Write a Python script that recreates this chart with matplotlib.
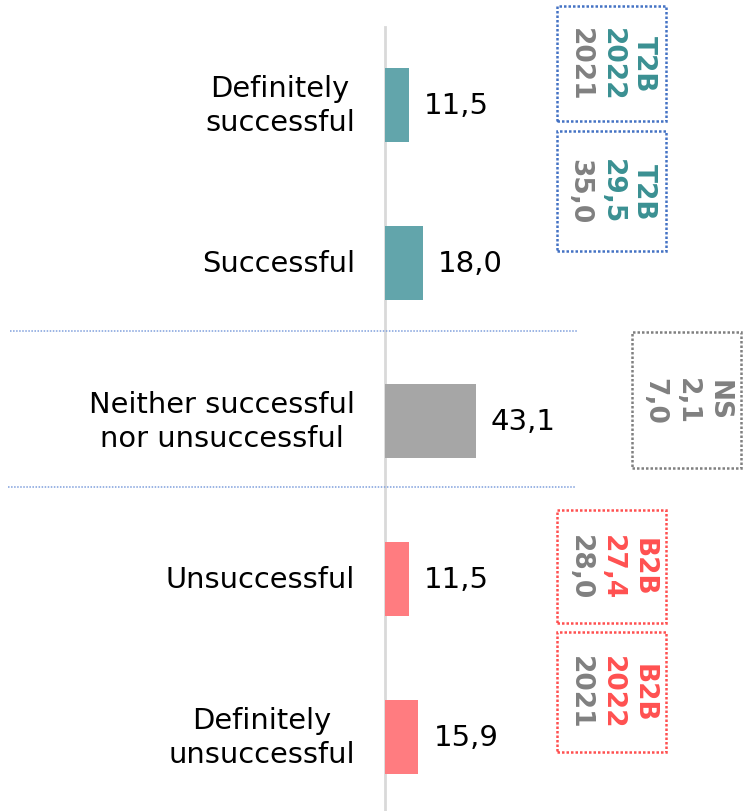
import matplotlib
matplotlib.use("Agg")
import matplotlib.pyplot as plt
from matplotlib.patches import Rectangle

categories = ["Definitely\nsuccessful", "Successful", "Neither successful\nnor unsuccessful",
              "Unsuccessful", "Definitely\nunsuccessful"]
values = [11.5, 18.0, 43.1, 11.5, 15.9]
value_labels = ["11,5", "18,0", "43,1", "11,5", "15,9"]
bar_colors = ["#62a5ab", "#62a5ab", "#a6a6a6", "#ff7c80", "#ff7c80"]

# summary boxes
box_t2b_head = ["T2B", "2022", "2021"]
box_t2b_vals = ["T2B", "29,5", "35,0"]
box_ns_vals = ["NS", "2,1", "7,0"]
box_b2b_vals = ["B2B", "27,4", "28,0"]
box_b2b_head = ["B2B", "2022", "2021"]

TEAL = "#3a9092"
RED = "#ff5050"
GREY = "#808080"

W, H = 743, 812
fig = plt.figure(figsize=(W / 100, H / 100), dpi=100)
ax = fig.add_axes([0, 0, 1, 1])

px_per_unit = 2.1
x0_px = 385
y0_px = 106
step = 158
ax.set_xlim(-x0_px / px_per_unit, (W - x0_px) / px_per_unit)
ax.set_ylim((H - y0_px) / step, -y0_px / step)
ax.axis("off")

ypos = list(range(len(categories)))
ax.barh(ypos, values, height=74 / step, color=bar_colors, zorder=2)

for y, v, lab, cat in zip(ypos, values, value_labels, categories):
    ax.text(v + 15 / px_per_unit, y, lab, va="center", ha="left", fontsize=21, color="black")
    ax.text(-30 / px_per_unit, y, cat, va="center", ha="right", fontsize=20.8,
            color="black", linespacing=1.3, multialignment="center")

def px_x(p):
    return (p - x0_px) / px_per_unit

def px_y(p):
    return (p - y0_px) / step

# zero line
ax.plot([0, 0], [px_y(28), px_y(H)], color="#d9d9d9", lw=2, zorder=1)

# dotted separators
ax.plot([px_x(10), px_x(578)], [px_y(332), px_y(332)], color="#7f9fdc", lw=1.1, ls=(0, (1, 1)))
ax.plot([px_x(8), px_x(575)], [px_y(488), px_y(488)], color="#7f9fdc", lw=1.1, ls=(0, (1, 1)))

def box(xl, yt, xr, yb, lines, colors, edge):
    r = Rectangle((px_x(xl), px_y(yb)), px_x(xr) - px_x(xl), px_y(yt) - px_y(yb),
                  fill=False, edgecolor=edge, lw=1.8, ls=(0, (1, 0.8)))
    ax.add_patch(r)
    cx = (xl + xr) / 2
    cy = (yt + yb) / 2
    n = len(lines)
    sp = 32
    for i, (t, c) in enumerate(zip(lines, colors)):
        xx = cx + (i - (n - 1) / 2) * (-sp)
        ax.text(px_x(xx), px_y(cy), t, rotation=-90, ha="center", va="center",
                fontsize=19, fontweight="bold", color=c, rotation_mode="anchor")

box(557, 7, 666, 122, box_t2b_head, [TEAL, TEAL, GREY], "#4472c4")
box(557, 132, 666, 252, box_t2b_vals, [TEAL, TEAL, GREY], "#4472c4")
box(632, 333, 741, 469, box_ns_vals, [GREY, GREY, GREY], GREY)
box(557, 511, 666, 624, box_b2b_vals, [RED, RED, GREY], RED)
box(557, 633, 666, 753, box_b2b_head, [RED, RED, GREY], RED)

fig.savefig("out.png", dpi=100)
